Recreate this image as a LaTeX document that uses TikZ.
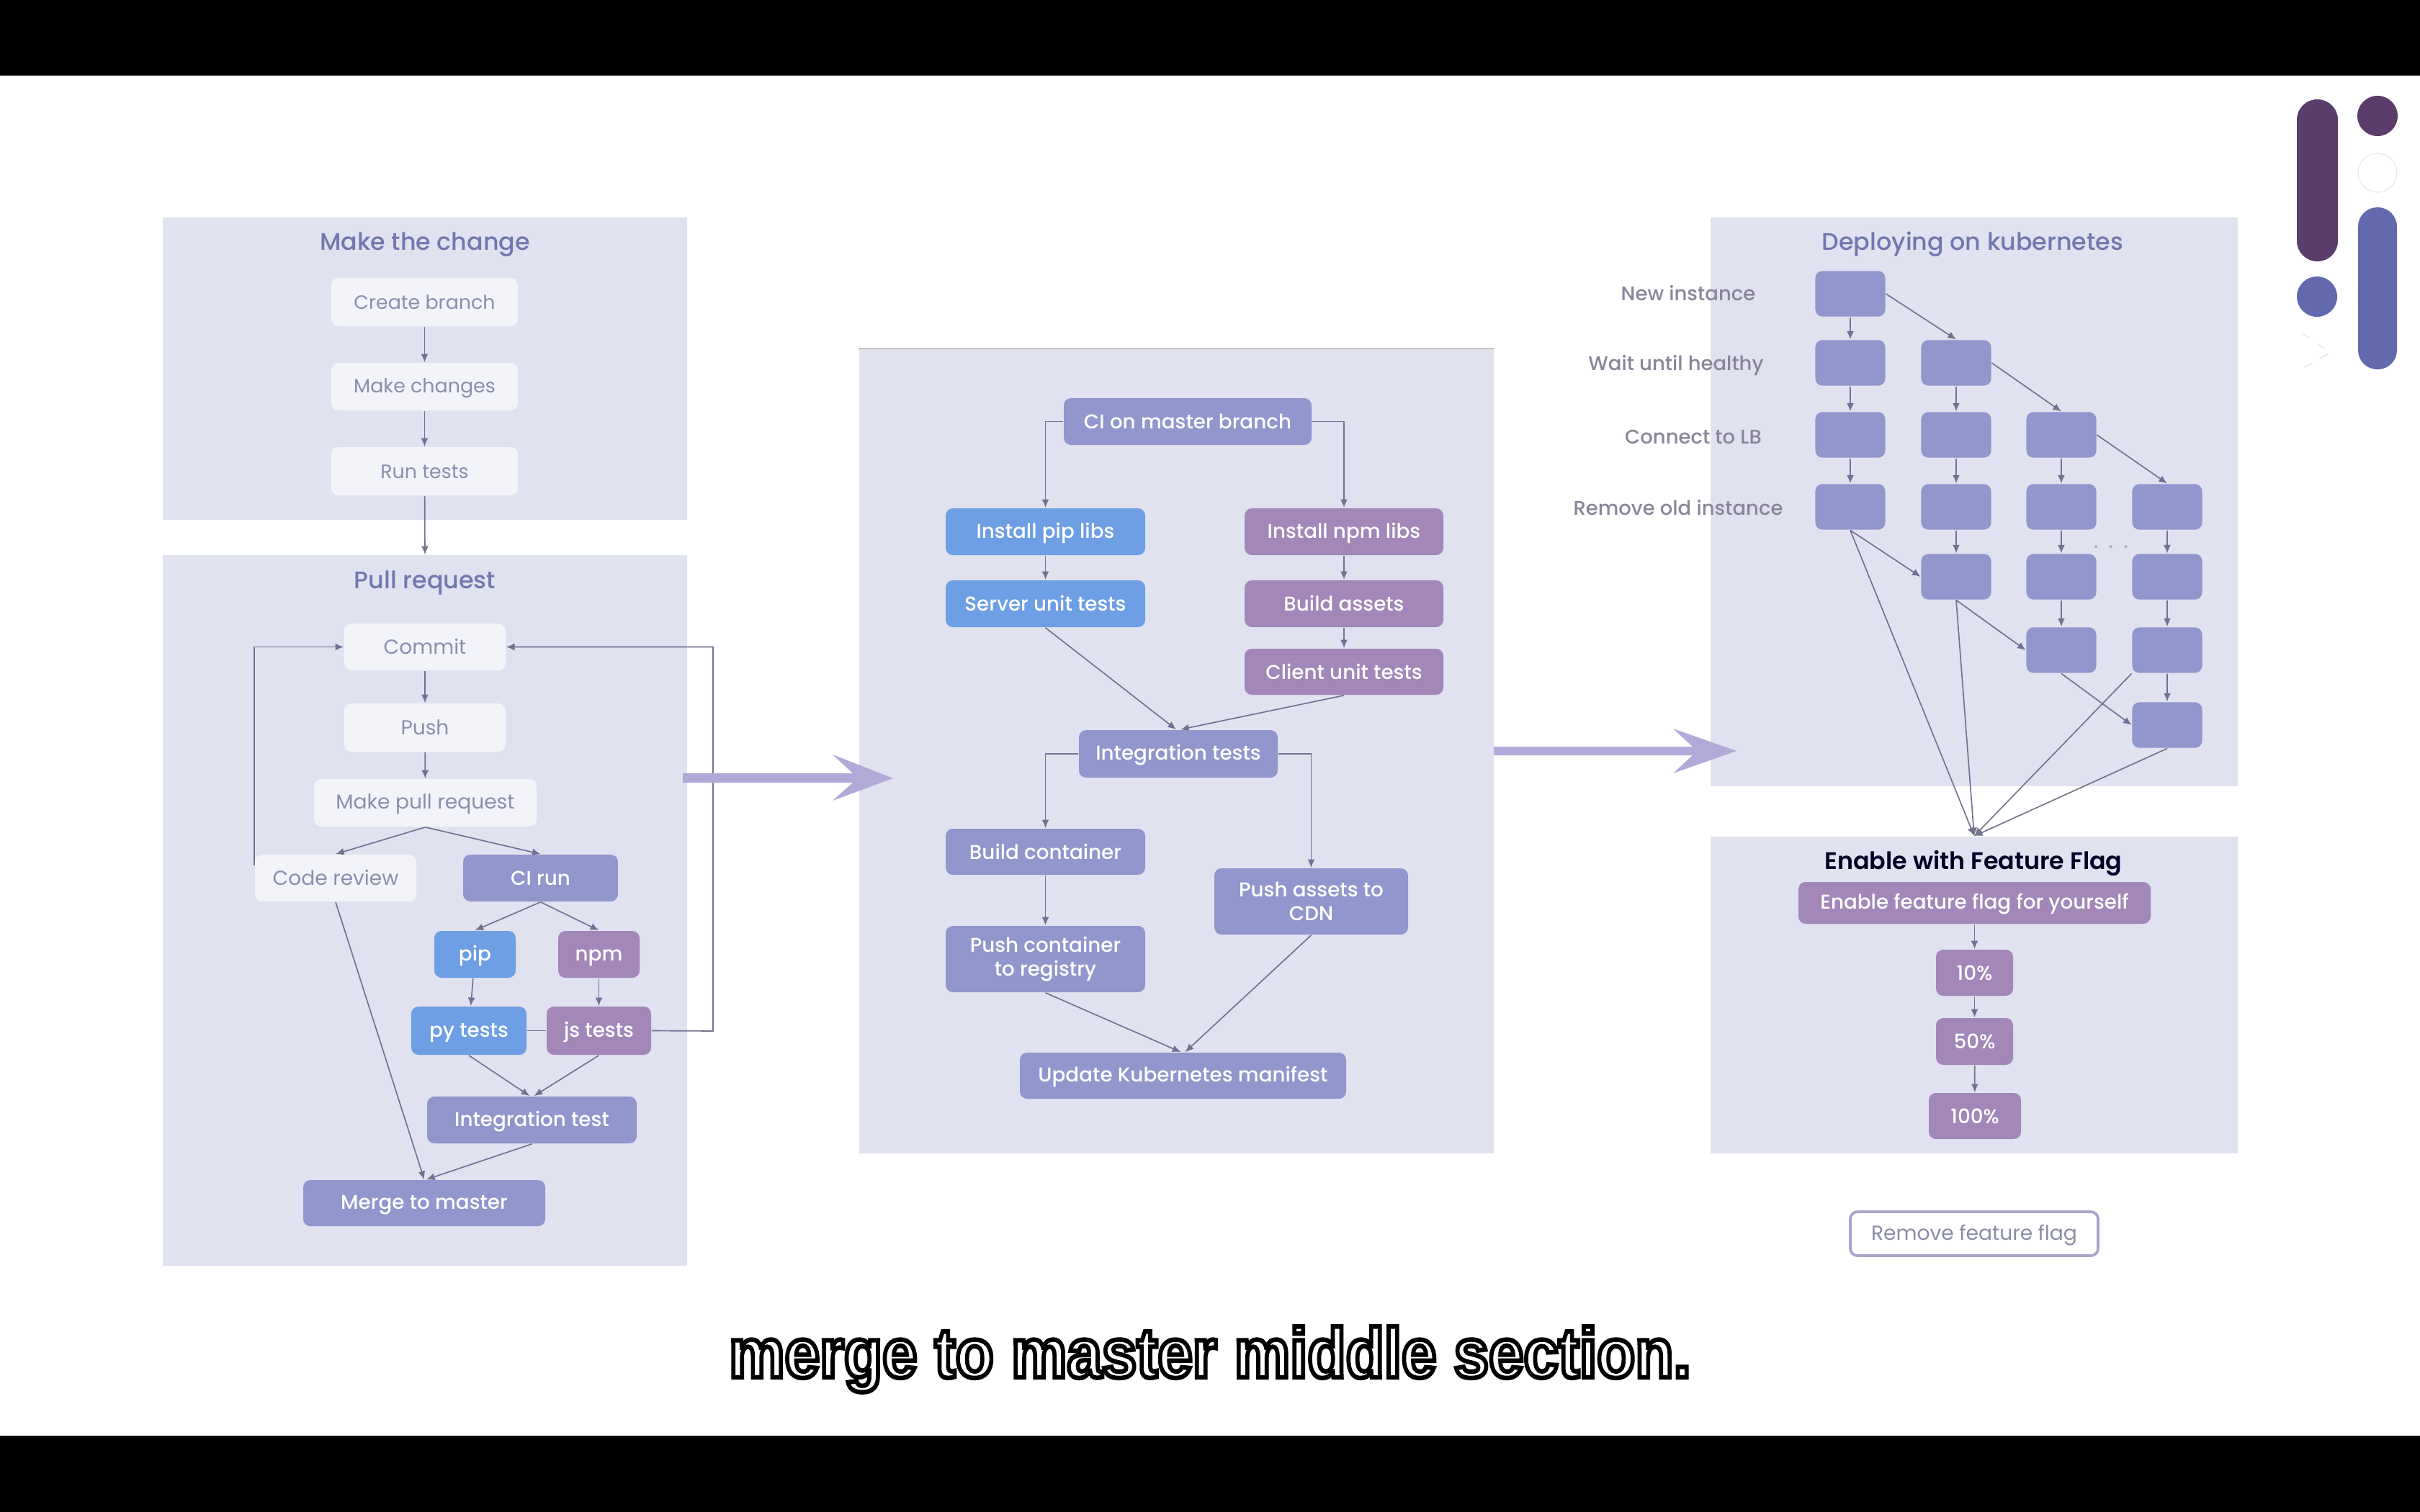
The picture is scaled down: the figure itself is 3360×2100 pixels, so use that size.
\documentclass[tikz,border=0pt]{standalone}
\usepackage{fontspec}
\usepackage{graphicx}
\setmainfont{Poppins}
\newfontfamily\medf{Poppins Medium}
\newfontfamily\semif{Poppins SemiBold}
\newfontfamily\capf[FakeBold=6.5]{Liberation Sans Bold}
\usetikzlibrary{arrows.meta}
\pgfdeclarelayer{conn}
\pgfdeclarelayer{panel}
\pgfsetlayers{conn,panel,main}
\definecolor{linec}{HTML}{74748E}
\definecolor{panelc}{HTML}{5F68AF}
\definecolor{peri}{HTML}{9196CC}
\definecolor{bluebox}{HTML}{6E9EE4}
\definecolor{purp}{HTML}{A287B8}
\definecolor{lightbox}{HTML}{F3F4FA}
\definecolor{lighttext}{HTML}{8B8DAB}
\definecolor{titlec}{HTML}{7277B0}
\definecolor{labelc}{HTML}{8A8498}
\definecolor{bigarrow}{HTML}{B2A9D8}
\definecolor{logop}{HTML}{5A3D6B}
\definecolor{logob}{HTML}{6269AD}
\newcommand{\vst}{\rule[-1.2pt]{0pt}{7.2pt}}
\newcommand{\vstt}{\rule[-1.2pt]{0pt}{8.4pt}}
\newcommand{\sizeA}{\fontsize{6.75pt}{8pt}\selectfont}
\newcommand{\sizeS}{\fontsize{6.45pt}{8pt}\selectfont}
\newcommand{\sizeM}{\medf\fontsize{6.67pt}{8pt}\selectfont}
\newcommand{\sizeL}{\medf\fontsize{6.6pt}{8pt}\selectfont}
\newcommand{\sizeT}{\medf\fontsize{8pt}{9pt}\selectfont}
\newcommand{\boxn}[7]{\node[#2,minimum width={(#5-#3)*0.24pt},minimum height={(#6-#4)*0.24pt}] (#1) at ({(#3+#5)/2},{(#4+#6)/2}) {\vst#7};}
\newcommand{\boxm}[7]{\node[#2,minimum width={(#5-#3)*0.24pt},minimum height={(#6-#4)*0.24pt}] (#1) at ({(#3+#5)/2},{(#4+#6)/2}) {\vphantom{Ag}#7};}
\tikzset{
 x=0.24pt,y=-0.24pt,
 basebox/.style={rectangle,rounded corners=2.4pt,inner sep=0pt,align=center,font=\sizeA},
 light/.style={basebox,fill=lightbox,text=lighttext},
 lightsmall/.style={light,font=\sizeS},
 periw/.style={basebox,fill=peri,text=white,font=\sizeM},
 blueb/.style={basebox,fill=bluebox,text=white,font=\sizeM},
 purpb/.style={basebox,fill=purp,text=white,font=\sizeM},
 dbox/.style={rectangle,rounded corners=2.4pt,inner sep=0pt,fill=peri,minimum width=23.3pt,minimum height=15.2pt},
 panelbox/.style={rectangle,inner sep=0pt,fill=panelc,fill opacity=0.19},
 ttl/.style={font=\sizeT,text=titlec,inner sep=0pt},
 lab/.style={font=\sizeL,text=labelc,inner sep=0pt},
 conn/.style={draw=linec,line width=0.4pt,-{Latex[length=2.8pt,width=2.4pt]}},
 plain/.style={draw=linec,line width=0.4pt},
}
\begin{document}
\begin{tikzpicture}
\useasboundingbox (0,0) rectangle (3360,2100);
\begin{pgfonlayer}{conn}
\fill[white] (0,0) rectangle (3360,2100);
\end{pgfonlayer}
\fill[black] (0,0) rectangle (3360,105);
\fill[black] (0,1994) rectangle (3360,2100);
% panels
\begin{pgfonlayer}{panel}
\boxm{panelA}{panelbox}{226}{302}{954}{722}{}
\boxm{panelB}{panelbox}{226}{771}{954}{1758}{}
\boxm{panelC}{panelbox}{1193}{485}{2074}{1602}{}
\boxm{panelD}{panelbox}{2375}{302}{3107}{1092}{}
\boxm{panelE}{panelbox}{2375}{1162}{3107}{1602}{}
\end{pgfonlayer}
% Make the change
\node[ttl] (tA) at (590,337) {\vstt Make the change};
\boxn{create}{lightsmall}{460}{386}{719}{453}{Create branch}
\boxn{changes}{lightsmall}{460}{504}{719}{570}{Make changes}
\boxn{run}{lightsmall}{460}{621}{719}{688}{Run tests}
% Pull request
\node[ttl] (tB) at (590,807) {\vstt Pull request};
\boxn{commit}{light}{478}{866}{702}{931}{Commit}
\boxn{push}{light}{478}{977}{702}{1044}{Push}
\boxn{mpr}{light}{436}{1082}{745}{1148}{Make pull request}
\boxn{cr}{light}{354}{1187}{578}{1252}{Code review}
\boxn{cirun}{periw}{643}{1187}{858}{1252}{CI run}
\boxn{pip}{blueb}{603}{1293}{716}{1358}{pip}
\boxn{npm}{purpb}{775}{1293}{888}{1358}{npm}
\boxn{py}{blueb}{571}{1398}{731}{1465}{py tests}
\boxn{js}{purpb}{759}{1398}{904}{1465}{js tests}
\boxn{itest}{periw}{593}{1523}{884}{1588}{Integration test}
\boxn{merge}{periw}{421}{1639}{757}{1703}{Merge to master}
\coordinate (loopR) at (990,1432);
% Middle
\boxn{cim}{periw}{1477}{553}{1821}{618}{CI on master branch}
\boxn{ipip}{blueb}{1313}{706}{1590}{771}{Install pip libs}
\boxn{sut}{blueb}{1313}{806}{1590}{871}{Server unit tests}
\boxn{inpm}{purpb}{1728}{706}{2004}{771}{Install npm libs}
\boxn{bas}{purpb}{1728}{806}{2004}{871}{Build assets}
\boxn{cut}{purpb}{1728}{901}{2004}{965}{Client unit tests}
\boxn{its}{periw}{1498}{1014}{1774}{1080}{Integration tests}
\boxn{bc}{periw}{1313}{1151}{1590}{1215}{Build container}
\boxm{pac}{periw}{1686}{1206}{1955}{1298}{Push assets to\\CDN}
\boxm{pcr}{periw}{1313}{1286}{1590}{1378}{Push container\\to registry}
\boxn{ukm}{periw}{1416}{1462}{1869}{1526}{Update Kubernetes manifest}
% Kubernetes
\node[ttl] (tD) at (2739,337) {\vstt Deploying on kubernetes};
\node[lab] (l1) at (2344,407) {\vst New instance};
\node[lab] (l2) at (2327,506) {\vst Wait until healthy};
\node[lab] (l3) at (2351,606) {\vst Connect to LB};
\node[lab] (l4) at (2330,705) {\vst Remove old instance};
\node[dbox] (c1r1) at (2569,408) {};
\node[dbox] (c1r2) at (2569,504) {};
\node[dbox] (c1r3) at (2569,604) {};
\node[dbox] (c1r4) at (2569,704) {};
\node[dbox] (c2r2) at (2716,504) {};
\node[dbox] (c2r3) at (2716,604) {};
\node[dbox] (c2r4) at (2716,704) {};
\node[dbox] (c2r5) at (2716,801) {};
\node[dbox] (c3r3) at (2862,604) {};
\node[dbox] (c3r4) at (2862,704) {};
\node[dbox] (c3r5) at (2862,801) {};
\node[dbox] (c3r6) at (2862,903) {};
\node[dbox] (c4r4) at (3009,704) {};
\node[dbox] (c4r5) at (3009,801) {};
\node[dbox] (c4r6) at (3009,903) {};
\node[dbox] (c4r7) at (3009,1007) {};
\node[inner sep=0pt,font=\sizeL,text=labelc!70] (dots) at (2931,760) {. \,. \,.};
% Feature flag
\node[font=\semif\fontsize{8pt}{9pt}\selectfont,text=black!85!blue,inner sep=0pt] (tE) at (2740,1197) {\vstt Enable with Feature Flag};
\boxn{eff}{purpb}{2497}{1225}{2986}{1283}{Enable feature flag for yourself}
\boxn{p10}{purpb}{2688}{1319}{2795}{1383}{10\%}
\boxn{p50}{purpb}{2688}{1414}{2795}{1479}{50\%}
\boxn{p100}{purpb}{2678}{1518}{2806}{1582}{100\%}
\boxn{rff}{basebox,draw=bigarrow!85!gray,line width=0.9pt,fill=white,text=lighttext!90!gray}{2569}{1683}{2913}{1744}{Remove feature flag}
% connectors
\begin{pgfonlayer}{conn}
\draw[conn] (create) -- (changes);
\draw[conn] (changes) -- (run);
\draw[conn] (run) -- (panelB.north);
\draw[conn] (commit) -- (push);
\draw[conn] (push) -- (mpr);
\draw[conn] (mpr.south) -- (cr.north);
\draw[conn] (mpr.south) -- (cirun.north);
\draw[conn] ([shift={(0,16)}]cr.north west) |- (commit.west);
\draw[conn] (cr.south) -- (merge.north);
\draw[conn] (itest.south) -- ([shift={(3,0)}]merge.north);
\draw[conn] (cirun.south) -- (pip.north);
\draw[conn] (cirun.south) -- (npm.north);
\draw[conn] (pip) -- (py);
\draw[conn] (npm) -- (js);
\draw[plain] (py) -- (js);
\draw[conn] (js.east) -- (loopR) |- (commit.east);
\draw[conn] (py.south) -- ([shift={(-3,0)}]itest.north);
\draw[conn] (js.south) -- ([shift={(3,0)}]itest.north);
\draw[line width=0.3pt,draw=gray!85] (panelC.north west) -- (panelC.north east);
\draw[conn] (cim.west) -| (ipip.north);
\draw[conn] (cim.east) -| (inpm.north);
\draw[conn] (ipip) -- (sut);
\draw[conn] (inpm) -- (bas);
\draw[conn] (bas) -- (cut);
\draw[conn] (sut.south) -- ([shift={(-3,0)}]its.north);
\draw[conn] (cut.south) -- ([shift={(3,0)}]its.north);
\draw[conn] (its.west) -| (bc.north);
\draw[conn] (its.east) -| (pac.north);
\draw[conn] (bc) -- (pcr);
\draw[conn] (pcr.south) -- ([shift={(-3,0)}]ukm.north);
\draw[conn] (pac.south) -- ([shift={(3,0)}]ukm.north);
\draw[conn] (c1r1) -- (c1r2);
\draw[conn] (c1r2) -- (c1r3);
\draw[conn] (c1r3) -- (c1r4);
\draw[conn] (c2r2) -- (c2r3);
\draw[conn] (c2r3) -- (c2r4);
\draw[conn] (c2r4) -- (c2r5);
\draw[conn] (c3r3) -- (c3r4);
\draw[conn] (c3r4) -- (c3r5);
\draw[conn] (c3r5) -- (c3r6);
\draw[conn] (c4r4) -- (c4r5);
\draw[conn] (c4r5) -- (c4r6);
\draw[conn] (c4r6) -- (c4r7);
\draw[conn] (c1r1.east) -- (c2r2.north);
\draw[conn] (c2r2.east) -- (c3r3.north);
\draw[conn] (c3r3.east) -- (c4r4.north);
\draw[conn] (c1r4.south) -- (c2r5.west);
\draw[conn] (c2r5.south) -- (c3r6.west);
\draw[conn] (c3r6.south) -- (c4r7.west);
\draw[conn] (c1r4.south) -- (panelE.north);
\draw[conn] (c2r5.south) -- (panelE.north);
\draw[conn] (c4r6.south west) -- (panelE.north);
\draw[conn] (c4r7.south) -- (panelE.north);
\draw[conn] (eff) -- (p10);
\draw[conn] (p10) -- (p50);
\draw[conn] (p50) -- (p100);
\end{pgfonlayer}
% big arrows
\fill[bigarrow] (948,1074) -- (1184,1074) -- (1156,1048) -- (1240,1081) -- (1156,1112) -- (1184,1087) -- (948,1087) -- cycle;
\fill[bigarrow] (2074,1037) -- (2350,1037) -- (2323,1012) -- (2411,1043) -- (2323,1074) -- (2350,1049) -- (2074,1049) -- cycle;
% logo
\fill[logop,rounded corners=6.8pt] (3189,138) rectangle (3246,363);
\fill[logop] (3301,161) circle (28);
\draw[black!8,line width=0.3pt] (3301,240) circle (27);
\fill[logob] (3217,412) circle (28);
\fill[logob,rounded corners=6.4pt] (3274,288) rectangle (3328,513);
\draw[black!10,line width=0.3pt,dashed] (3197,463) -- (3235,490) -- (3197,512);
% caption
\node[anchor=base,inner sep=0pt,font=\capf\fontsize{20.9pt}{26pt}\selectfont] (cap) at (1680,1913)
 {\scalebox{1}[1.12]{\special{pdf:code q 0 0 0 RG 1 1 1 rg}merge to master middle section.\special{pdf:code Q}}};
\end{tikzpicture}
\end{document}
